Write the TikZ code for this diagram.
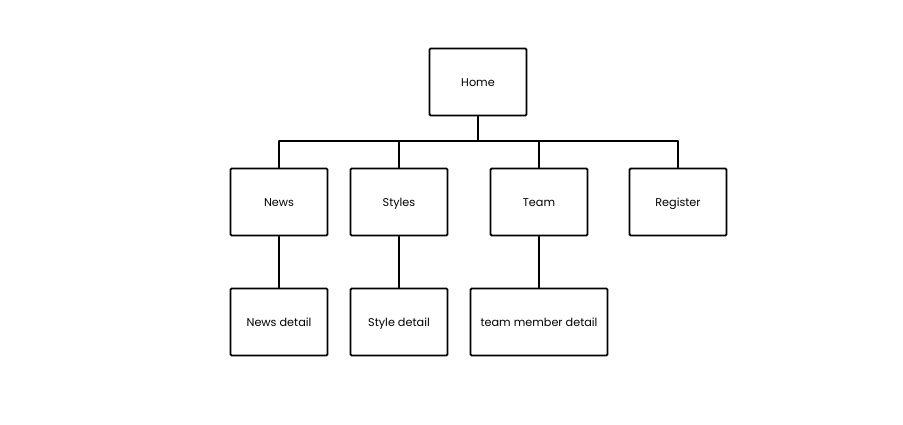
\documentclass[tikz,border=0pt]{standalone}
\usepackage{fontspec}
\setmainfont{Poppins}
\begin{document}
\begin{tikzpicture}[x=0.03cm, y=-0.03cm, font=\fontsize{9.6}{11}\selectfont, line join=round, line cap=round,
	page/.style={draw, line width=1.6pt, rounded corners=1pt, minimum width=2.91cm, minimum height=2.01cm, inner sep=2pt, text height=1.6ex, text depth=.3ex},
	link/.style={line width=1.1pt}]
	\useasboundingbox (0,0) rectangle (903,425);
	\node[page] (home) at (478,82) {Home};
	\node[page] (news) at (279,202) {News};
	\node[page] (styles) at (399,202) {Styles};
	\node[page] (team) at (539,202) {Team};
	\node[page] (register) at (678,202) {Register};
	\node[page] (newsd) at (279,322) {News detail};
	\node[page] (styled) at (399,322) {Style detail};
	\node[page, minimum width=4.11cm] (teamd) at (539,322) {team member detail};
	\coordinate (bus) at (478,141);
	\draw[link] (home.south)--(bus);
	\draw[link] (news.north |- bus)--(register.north |- bus);
	\foreach \n in {news,styles,team,register} \draw[link] (\n.north)--(\n.north |- bus);
	\foreach \a/\b in {news/newsd,styles/styled,team/teamd} \draw[link] (\a.south)--(\b.north);
\end{tikzpicture}
\end{document}
